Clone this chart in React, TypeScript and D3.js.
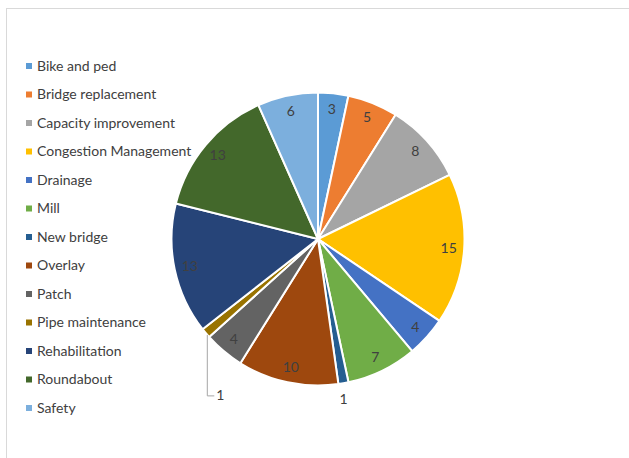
import React from "react";
import * as d3 from "d3";

const categories = [
  "Bike and ped",
  "Bridge replacement",
  "Capacity improvement",
  "Congestion Management",
  "Drainage",
  "Mill",
  "New bridge",
  "Overlay",
  "Patch",
  "Pipe maintenance",
  "Rehabilitation",
  "Roundabout",
  "Safety",
];
const values = [3, 5, 8, 15, 4, 7, 1, 10, 4, 1, 13, 13, 6];
const colors = [
  "#5B9BD5", "#ED7D31", "#A5A5A5", "#FFC000", "#4472C4", "#70AD47",
  "#255E91", "#9E480E", "#636363", "#997300", "#264478", "#43682B", "#7CAFDD",
];

const W = 629, H = 458;
const cx = 318, cy = 239, R = 146.5, labelR = 131;
const FONT = "Lato, 'Open Sans', sans-serif";
const TXT = "#404040";

export default function App() {
  const pie = d3.pie<number>().sort(null).value((d) => d)(values);
  const arc = d3.arc<d3.PieArcDatum<number>>().innerRadius(0).outerRadius(R);
  const pt = (a: number, r: number) => [cx + r * Math.sin(a), cy - r * Math.cos(a)];
  const legendY = d3.scaleLinear().domain([0, categories.length - 1]).range([66, 408]);

  return (
    <svg width={W} height={H} style={{ position: "absolute", left: 0, top: 0 }}>
      <rect x={0} y={0} width={W} height={H} fill="#fff" />
      <rect x={6.5} y={8.5} width={W + 10} height={H + 10} fill="none" stroke="#d9d9d9" strokeWidth={1} />
      <g transform={`translate(${cx},${cy})`}>
        {pie.map((p, i) => (
          <path key={i} d={arc(p) || ""} fill={colors[i]} stroke="#fff" strokeWidth={2} strokeLinejoin="round" />
        ))}
      </g>
      {pie.map((p, i) => {
        const mid = (p.startAngle + p.endAngle) / 2;
        if (values[i] === 1) {
          if (categories[i] === "New bridge") {
            const [x, y] = pt(mid, R);
            return (
              <text key={i} x={x} y={y + 21} textAnchor="middle" fontFamily={FONT} fontSize={14} fill={TXT}>
                {values[i]}
              </text>
            );
          }
          const [x, y] = pt(mid, R - 2);
          return (
            <g key={i}>
              <polyline points={`${x},${y + 3} ${x},${y + 64} ${x + 7},${y + 64}`} fill="none" stroke="#a6a6a6" strokeWidth={1} />
              <text x={x + 9} y={y + 68} fontFamily={FONT} fontSize={14} fill={TXT}>
                {values[i]}
              </text>
            </g>
          );
        }
        const [x, y] = pt(mid, labelR);
        return (
          <text key={i} x={x} y={y} dy="0.35em" textAnchor="middle" fontFamily={FONT} fontSize={14} fill={TXT}>
            {values[i]}
          </text>
        );
      })}
      {categories.map((c, i) => {
        const y = legendY(i);
        return (
          <g key={c}>
            <rect x={26} y={y - 3} width={6} height={6} fill={colors[i]} />
            <text x={37} y={y} dy="0.35em" fontFamily={FONT} fontSize={14} fill={TXT}>
              {c}
            </text>
          </g>
        );
      })}
    </svg>
  );
}
